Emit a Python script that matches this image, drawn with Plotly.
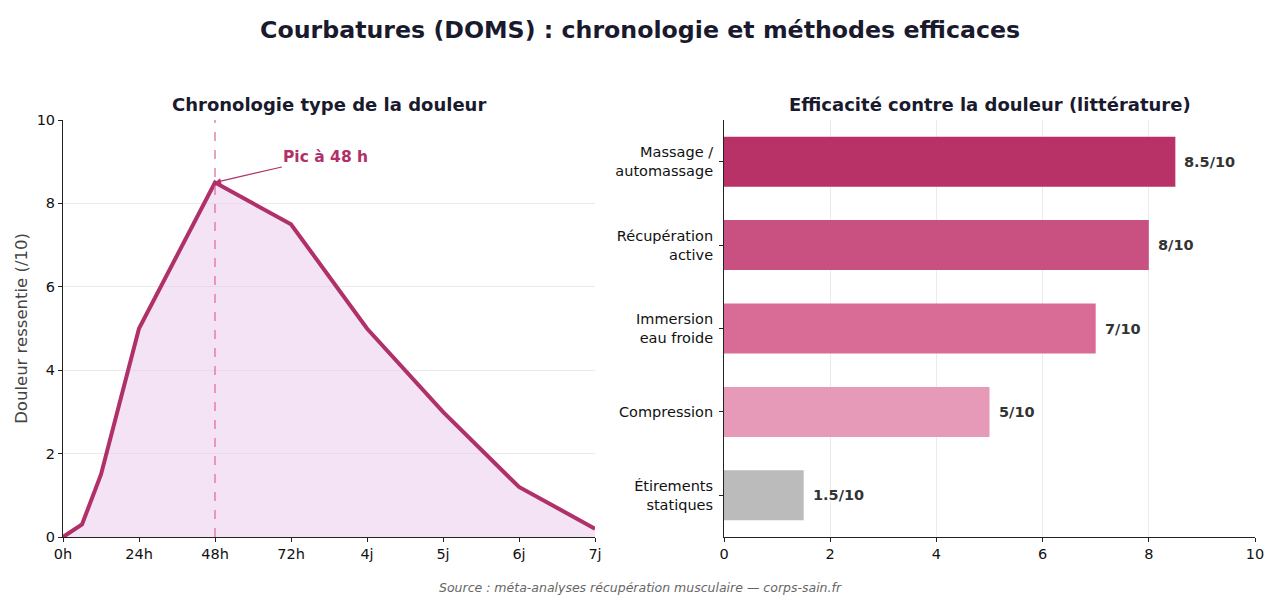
import plotly.graph_objects as go

# Data
hours = [0, 6, 12, 24, 48, 72, 96, 120, 144, 168]
pain = [0, 0.3, 1.5, 5.0, 8.5, 7.5, 5.0, 3.0, 1.2, 0.2]
x_tickvals = [0, 24, 48, 72, 96, 120, 144, 168]
x_ticktext = ["0h", "24h", "48h", "72h", "4j", "5j", "6j", "7j"]

methods = ["Massage /<br>automassage", "Récupération<br>active", "Immersion<br>eau froide",
           "Compression", "Étirements<br>statiques"]
efficacy = [8.5, 8.0, 7.0, 5.0, 1.5]
eff_labels = ["8.5/10", "8/10", "7/10", "5/10", "1.5/10"]
bar_colors = ["#b83268", "#c85182", "#d96c97", "#e69ab7", "#bbbbbb"]

FONT = "DejaVu Sans"
TICK = 14.5
fig = go.Figure()

fig.add_trace(go.Scatter(
    x=hours, y=pain, mode="lines",
    line=dict(color="#b03068", width=4),
    fill="tozeroy", fillcolor="rgba(232,200,234,0.5)",
    xaxis="x", yaxis="y", showlegend=False, hoverinfo="skip"))

fig.add_trace(go.Bar(
    x=efficacy, y=methods, orientation="h",
    marker=dict(color=bar_colors, line=dict(width=0)),
    width=0.6,
    xaxis="x2", yaxis="y2", showlegend=False, hoverinfo="skip"))

for v, m, lab in zip(efficacy, methods, eff_labels):
    fig.add_annotation(x=v, y=m, xref="x2", yref="y2", text=f"<b>{lab}</b>",
                       showarrow=False, xanchor="left", yanchor="middle", xshift=7,
                       font=dict(family=FONT, size=TICK, color="#333333"))

axis_common = dict(showline=True, linecolor="#222222", linewidth=1,
                   ticks="outside", ticklen=4, tickcolor="#222222",
                   tickfont=dict(family=FONT, size=TICK, color="#111111"),
                   zeroline=False, automargin=False)

fig.update_layout(
    width=1280, height=600,
    margin=dict(l=0, r=0, t=0, b=0),
    paper_bgcolor="white", plot_bgcolor="white",
    font=dict(family=FONT),
    xaxis=dict(domain=[63/1280, 595/1280], range=[0, 168],
               tickvals=x_tickvals, ticktext=x_ticktext,
               showgrid=False, anchor="y", **axis_common),
    yaxis=dict(domain=[63/600, 480/600], range=[0, 10], dtick=2,
               showgrid=True, gridcolor="#ebebeb", gridwidth=1,
               anchor="x",
               title=dict(text="Douleur ressentie (/10)",
                          font=dict(family=FONT, size=16.5, color="#444444"),
                          standoff=4),
               **axis_common),
    xaxis2=dict(domain=[724/1280, 1255/1280], range=[0, 10], dtick=2,
                showgrid=True, gridcolor="#ebebeb", gridwidth=1,
                anchor="y2", **axis_common),
    yaxis2=dict(domain=[63/600, 480/600], autorange="reversed",
                showgrid=False, anchor="x2", ticklabelstandoff=3, **axis_common),
    bargap=0.4,
)

# vertical dashed peak line
fig.add_shape(type="line", xref="x", yref="y", x0=48, x1=48, y0=0, y1=10,
              line=dict(color="#e0709f", width=1.3, dash="dash"))

fig.add_annotation(x=48, y=8.5, xref="x", yref="y",
                   ax=83, ay=9.12, axref="x", ayref="y",
                   text="<b>Pic à 48 h</b>", showarrow=True,
                   arrowhead=2, arrowsize=1, arrowwidth=1.2, arrowcolor="#b03068",
                   font=dict(family=FONT, size=15.5, color="#b03068"))

fig.add_annotation(x=0.5, y=1 - 30/600, xref="paper", yref="paper",
                   xanchor="center", yanchor="middle",
                   text="<b>Courbatures (DOMS) : chronologie et méthodes efficaces</b>",
                   showarrow=False, font=dict(family=FONT, size=23.7, color="#1a1a2e"))
fig.add_annotation(x=329/1280, y=1 - 104/600, xref="paper", yref="paper",
                   xanchor="center", yanchor="middle",
                   text="<b>Chronologie type de la douleur</b>",
                   showarrow=False, font=dict(family=FONT, size=18, color="#1a1a2e"))
fig.add_annotation(x=989.5/1280, y=1 - 104/600, xref="paper", yref="paper",
                   xanchor="center", yanchor="middle",
                   text="<b>Efficacité contre la douleur (littérature)</b>",
                   showarrow=False, font=dict(family=FONT, size=18, color="#1a1a2e"))
fig.add_annotation(x=0.5, y=1 - 587/600, xref="paper", yref="paper",
                   xanchor="center", yanchor="middle",
                   text="<i>Source : méta-analyses récupération musculaire — corps-sain.fr</i>",
                   showarrow=False, font=dict(family=FONT, size=12.5, color="#666666"))

fig.write_html("out.html")
